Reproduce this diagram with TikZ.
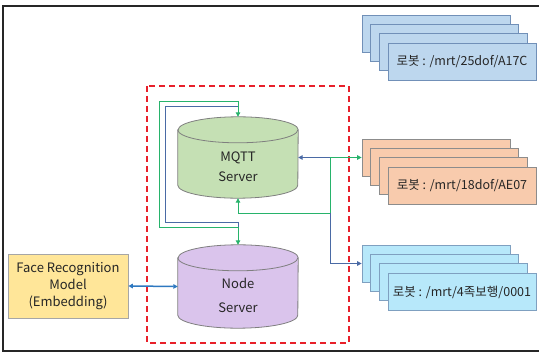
\documentclass[tikz,border=0pt]{standalone}
\usepackage{fontspec}
\setmainfont{Noto Sans CJK KR}
\usetikzlibrary{arrows.meta,calc}

\definecolor{txt}{HTML}{262626}
\definecolor{mqttfill}{HTML}{C5E0B4}
\definecolor{nodefill}{HTML}{DAC4EC}
\definecolor{cylline}{HTML}{7F7F7F}
\definecolor{facefill}{HTML}{FFE699}
\definecolor{faceline}{HTML}{A6A6A6}
\definecolor{robblue}{HTML}{BDD7EE}
\definecolor{robblueline}{HTML}{7190B8}
\definecolor{robsalmon}{HTML}{F8CBAD}
\definecolor{robsalmonline}{HTML}{8C8C8C}
\definecolor{robcyan}{HTML}{B7E8FA}
\definecolor{robcyanline}{HTML}{7FA0C0}
\definecolor{lgreen}{HTML}{27B36B}
\definecolor{lblue}{HTML}{4A6AA5}
\definecolor{fblue}{HTML}{2E78C0}
\definecolor{dashred}{HTML}{E8202A}

\tikzset{
  cylbox/.style={minimum width=120pt, inner sep=0pt, align=center,
    font=\fontsize{13}{20}\selectfont, text=txt},
  robbox/.style={draw, line width=0.7pt, minimum width=148pt, minimum height=37pt,
    inner sep=0pt, font=\fontsize{12.5}{15}\selectfont, text=txt},
  gline/.style={draw=lgreen, line width=1pt},
  bline/.style={draw=lblue, line width=1pt},
  tip/.style={-{Triangle[length=4.5pt,width=4.5pt]}},
  tips/.style={{Triangle[length=4.5pt,width=4.5pt]}-{Triangle[length=4.5pt,width=4.5pt]}},
}

% cylinder drawn around a named node: #1 node, #2 fill colour
\newcommand{\cylfill}[2]{%
  \path[fill=#2, draw=cylline, line width=0.8pt]
    ($(#1.north west)+(0,13)$) -- ($(#1.south west)+(0,-13)$)
    arc[start angle=180, end angle=0, x radius=60, y radius=13]
    -- ($(#1.north east)+(0,13)$)
    arc[start angle=360, end angle=180, x radius=60, y radius=13] -- cycle;
  \draw[draw=cylline, line width=0.8pt] ($(#1.north west)+(0,13)$)
    arc[start angle=180, end angle=0, x radius=60, y radius=13];
}

\begin{document}
\begin{tikzpicture}[x=1pt, y=-1pt]
\useasboundingbox (0,0) rectangle (539,353);

% outer frame
\draw[line width=1.6pt, draw=black!85] (540,6) -- (3,6) -- (3,351) -- (540,351);

% server area
\draw[draw=dashred, line width=1.8pt, dash pattern=on 6pt off 4pt] (147,86) rectangle (349,343);

% cylinder outlines (text placed afterwards)
\path (238,157.5) node[cylbox, minimum height=81pt] (mqttbox) {};
\path (238,286.5) node[cylbox, minimum height=83pt] (nodebox) {};
\cylfill{mqttbox}{mqttfill}
\cylfill{nodebox}{nodefill}
\node[cylbox, align=center] (mqtt) at (238,167) {MQTT\\Server};
\node[cylbox, align=center, font=\fontsize{13}{24}\selectfont] (nodesrv) at (238,295) {Node\\Server};

% face recognition model
\node[draw=faceline, fill=facefill, line width=0.7pt, minimum width=120pt, minimum height=64pt,
  inner sep=0pt, align=center, font=\fontsize{13}{17}\selectfont, text=txt] (face) at (68,286)
  {Face Recognition\\Model\\(Embedding)};

% robot stacks
\foreach \i/\dx/\dy in {1/0/0, 2/8.7/9.3, 3/17.3/18.7} {
  \node[robbox, draw=robblueline, fill=robblue] (b\i) at ({436+\dx},{33.5+\dy}) {};
  \node[robbox, draw=robsalmonline, fill=robsalmon] (s\i) at ({436+\dx},{157.5+\dy}) {};
  \node[robbox, draw=robcyanline, fill=robcyan] (c\i) at ({436+\dx},{263.5+\dy}) {};
}
\node[robbox, draw=robblueline, fill=robblue] (b4) at (462,62) {로봇 : /mrt/25dof/A17C};
\node[robbox, draw=robsalmonline, fill=robsalmon] (s4) at (462,186) {로봇 : /mrt/18dof/AE07};
\node[robbox, draw=robcyanline, fill=robcyan] (c4) at (462,292) {로봇 : /mrt/4족보행/0001};

% junction points
\coordinate (j) at (330,157.5);
\coordinate (g1) at (330,213);
\coordinate (gtl) at (159,102);
\coordinate (gbl) at (159,227);
\coordinate (btl) at (165,107);
\coordinate (bbl) at (165,222);

% loop between the two servers
\draw[bline] (mqttbox.north |- btl) -- (btl) -- (bbl) -- (mqttbox.north |- bbl) -- (mqttbox.north |- gbl);
\draw[gline, tips] (mqttbox.north) -- (mqttbox.north |- gtl) -- (gtl) -- (gbl) -- (nodebox.north |- gbl) -- (nodebox.north);

% links towards the robots
\draw[bline, tip] (j) -- (mqttbox.east |- j);
\draw[gline, tip] (j) -- (s1.west |- j);
\draw[gline, tip] (j) -- (g1) -| (mqttbox.south);
\draw[bline, tip] (g1) |- (c1.west);

% model link
\draw[draw=fblue, line width=1.5pt, tips] (face.east) -- (nodebox.west);
\end{tikzpicture}
\end{document}
